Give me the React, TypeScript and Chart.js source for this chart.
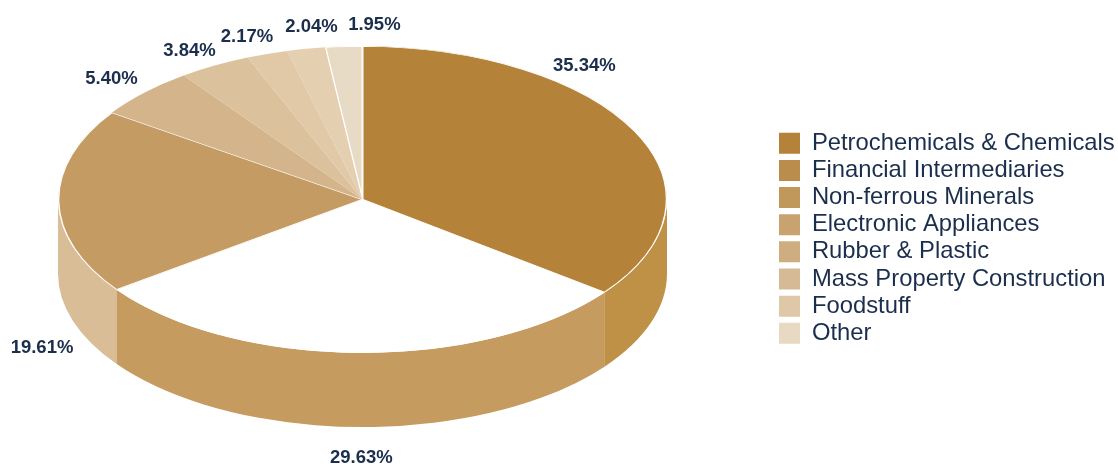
import React, { useEffect, useRef } from "react";
import { Chart, registerables } from "chart.js";

Chart.register(...registerables);

// Industry shares, in percent
const categories = [
  "Petrochemicals & Chemicals",
  "Financial Intermediaries",
  "Non-ferrous Minerals",
  "Electronic Appliances",
  "Rubber & Plastic",
  "Mass Property Construction",
  "Foodstuff",
  "Other",
];
const shares = [35.34, 29.63, 19.61, 5.4, 3.84, 2.17, 2.04, 1.95];

const topColors = ["#B58239", "#FFFFFF", "#C49B62", "#D4B48A", "#DCC29C", "#E1C9A8", "#E4CFB0", "#E8DBC5"];
const wallColors = ["#BF9147", "#C59B5F", "#D8BD97", "#D4B48A", "#DCC29C", "#E1C9A8", "#E4CFB0", "#E8DBC5"];
const legendColors = ["#B5823A", "#BB8D4D", "#C1985B", "#C8A36F", "#CEAD80", "#D5BA95", "#DEC8A8", "#E7D9C2"];
const topBorders = [1, 0, 1, 0, 0, 0, 0, 1];

// Label displacement from the middle of each slice's rim
const labelOffsets = [
  [-51, -65],
  [2, 105],
  [-16, 146.5],
  [-33, -13.5],
  [-25, -14.5],
  [-20, -17],
  [5.5, -22],
  [30.5, -21.5],
];

const PIE_X = 362.5;
const PIE_Y = 199.5;
const RADIUS_X = 304.5;
const RADIUS_Y = 153.5;
const DEPTH = 74;
const LABEL_COLOR = "#1B2E4C";
const LEGEND_PADDING = 3.34;

// Paints the visible part of the outer wall, below the tilted top face
const wallPlugin = {
  id: "pieWall",
  beforeDatasetsDraw(chart: any) {
    const { ctx } = chart;
    chart.getDatasetMeta(0).data.forEach((arc: any, i: number) => {
      const from = Math.max(arc.startAngle, 0);
      const to = Math.min(arc.endAngle, Math.PI);
      if (to <= from) return;
      ctx.save();
      ctx.fillStyle = wallColors[i];
      ctx.beginPath();
      ctx.ellipse(PIE_X, PIE_Y, RADIUS_X, RADIUS_Y, 0, from, to);
      ctx.ellipse(PIE_X, PIE_Y + DEPTH, RADIUS_X, RADIUS_Y, 0, to, from, true);
      ctx.closePath();
      ctx.fill();
      ctx.restore();
    });
  },
};

// Squashes the circular pie into an ellipse while its arcs are drawn
const tiltPlugin = {
  id: "pieTilt",
  beforeDatasetDraw(chart: any, args: any) {
    const { ctx } = chart;
    const first = args.meta.data[0];
    ctx.save();
    ctx.translate(PIE_X, PIE_Y);
    ctx.scale(1, RADIUS_Y / RADIUS_X);
    ctx.translate(-first.x, -first.y);
  },
  afterDatasetDraw(chart: any) {
    chart.ctx.restore();
  },
};

// Percentage labels around the pie
const shareLabelPlugin = {
  id: "shareLabels",
  afterDatasetsDraw(chart: any) {
    const { ctx } = chart;
    ctx.save();
    ctx.font = 'bold 18.5px "Liberation Sans"';
    ctx.fillStyle = LABEL_COLOR;
    ctx.textAlign = "center";
    ctx.textBaseline = "middle";
    chart.getDatasetMeta(0).data.forEach((arc: any, i: number) => {
      const mid = (arc.startAngle + arc.endAngle) / 2;
      const x = PIE_X + RADIUS_X * Math.cos(mid) + labelOffsets[i][0];
      const y = PIE_Y + RADIUS_Y * Math.sin(mid) + labelOffsets[i][1];
      ctx.fillText(`${shares[i].toFixed(2)}%`, x, y);
    });
    ctx.restore();
  },
};

// Places the legend block on the right-hand side
const legendPlacement = {
  id: "legendPlacement",
  afterLayout(chart: any) {
    chart.legend.left = 779 - LEGEND_PADDING;
    chart.legend.top = 131.4 - LEGEND_PADDING;
  },
};

export default function App() {
  const canvasRef = useRef<HTMLCanvasElement>(null);

  useEffect(() => {
    const chart = new Chart(canvasRef.current as HTMLCanvasElement, {
      type: "pie",
      data: {
        labels: categories,
        datasets: [
          {
            data: shares,
            backgroundColor: topColors,
            borderColor: "#FFFFFF",
            borderWidth: topBorders,
            borderAlign: "inner",
            radius: RADIUS_X,
            clip: false,
          } as any,
        ],
      },
      options: {
        animation: false,
        responsive: false,
        devicePixelRatio: 1,
        events: [],
        plugins: {
          tooltip: { enabled: false },
          legend: {
            position: "right",
            align: "start",
            labels: {
              boxWidth: 21,
              boxHeight: 21,
              padding: LEGEND_PADDING,
              color: LABEL_COLOR,
              font: { family: '"Liberation Sans"', size: 23.8 },
              generateLabels: () =>
                categories.map((text, index) => ({
                  text,
                  index,
                  fillStyle: legendColors[index],
                  strokeStyle: legendColors[index],
                  lineWidth: 0,
                  fontColor: LABEL_COLOR,
                })),
            },
          },
        },
      },
      plugins: [wallPlugin, tiltPlugin, shareLabelPlugin, legendPlacement],
    });
    return () => chart.destroy();
  }, []);

  return (
    <div style={{ position: "absolute", left: 0, top: 0, width: 1118, height: 464, background: "#FFFFFF" }}>
      <canvas ref={canvasRef} width={1118} height={464} style={{ display: "block" }} />
    </div>
  );
}
